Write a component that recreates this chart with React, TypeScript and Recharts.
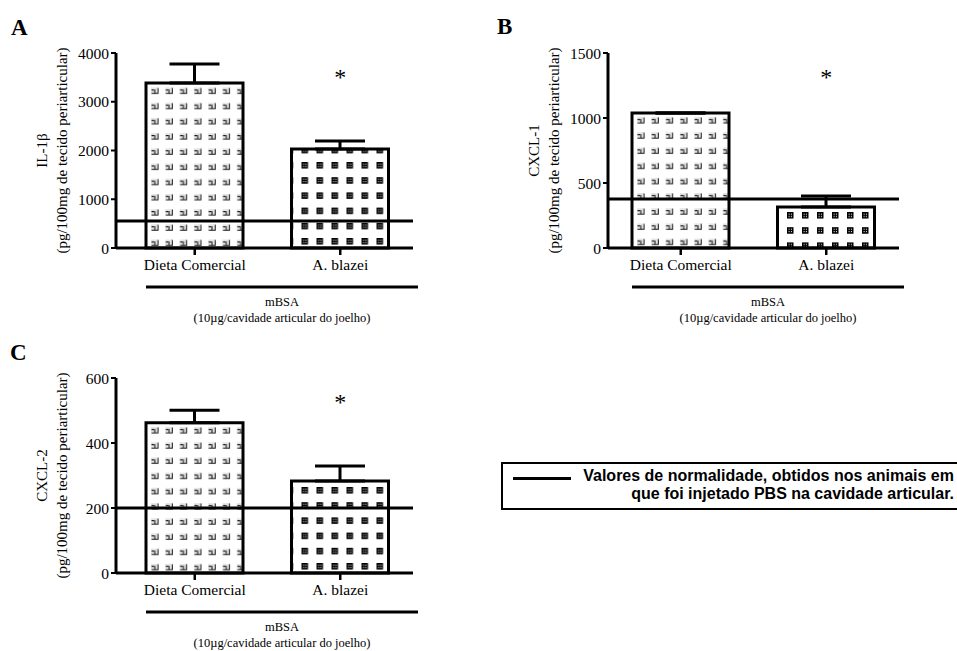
import { BarChart, Bar, Cell, XAxis, YAxis, ReferenceLine, ReferenceDot, ErrorBar } from "recharts";

const categories = ["Dieta Comercial", "A. blazei"];

// IL-1β
const il1bMean = [3385, 2030];
const il1bSem = [390, 165];
const il1bNormal = 554;
const il1bTicks = [0, 1000, 2000, 3000, 4000];
const il1bStar = 3520;

// CXCL-1
const cxcl1Mean = [1038, 315];
const cxcl1Sem = [0, 85];
const cxcl1Normal = 377;
const cxcl1Ticks = [0, 500, 1000, 1500];
const cxcl1Star = 1320;

// CXCL-2
const cxcl2Mean = [462, 283];
const cxcl2Sem = [39, 46];
const cxcl2Normal = 200;
const cxcl2Ticks = [0, 200, 400, 600];
const cxcl2Star = 528;

const SERIF = "'Liberation Serif', 'Times New Roman', serif";
const SANS = "'Liberation Sans', Arial, sans-serif";

const rows = (mean: number[], sem: number[]) =>
    categories.map((name, i) => ({ name, mean: mean[i], err: [0, sem[i]] }));

interface PanelProps {
    id: string;
    left: number;
    top: number;
    marginLeft: number;
    marginRight: number;
    padLeft: number;
    data: { name: string; mean: number; err: number[] }[];
    ticks: number[];
    normal: number;
    star: number;
    title: string;
    // pattern tile origins [bar1x, bar1y, bar2x, bar2y]
    pat: number[];
}

const Patterns = ({ id, pat }: { id: string; pat: number[] }) => (
    <defs>
        <pattern id={`${id}-a`} x={pat[0]} y={pat[1]} width={14.3} height={15.2} patternUnits="userSpaceOnUse">
            <rect width={14.3} height={15.2} fill="#fff" />
            <rect x={0} y={0} width={7.5} height={6.5} fill="#e6e6e6" />
            <path d="M0.5 6 H7 V0.5 M3.8 6 V2 M0.5 2.5 H3" stroke="#111" strokeWidth={1} fill="none" />
        </pattern>
        <pattern id={`${id}-b`} x={pat[2]} y={pat[3]} width={15} height={15.2} patternUnits="userSpaceOnUse">
            <rect width={15} height={15.2} fill="#fff" />
            <rect x={0} y={0} width={6.5} height={6.5} fill="#000" />
            <rect x={1.6} y={1.6} width={1} height={1} fill="#fff" />
            <rect x={3.9} y={1.6} width={1} height={1} fill="#fff" />
            <rect x={1.6} y={3.9} width={1} height={1} fill="#fff" />
            <rect x={3.9} y={3.9} width={1} height={1} fill="#fff" />
        </pattern>
    </defs>
);

const XTick = (p: any) => (
    <text x={p.x} y={p.y} dy="0.75em" textAnchor="middle" fontSize={15.5} fontFamily={SERIF} style={{ fontFamily: SERIF }} fill="#000">
        {p.payload.value}
    </text>
);

const YTick = (p: any) => (
    <text x={p.x} y={p.y} dy="0.36em" textAnchor="end" fontSize={15.5} fontFamily={SERIF} style={{ fontFamily: SERIF }} fill="#000">
        {p.payload.value}
    </text>
);

const Panel = ({ id, left, top, marginLeft, marginRight, padLeft, data, ticks, normal, star, title, pat }: PanelProps) => {
    const max = ticks[ticks.length - 1];
    return (
        <div style={{ position: "absolute", left, top }}>
            <BarChart
                width={430}
                height={330}
                data={data}
                margin={{ top: 53, right: marginRight, left: marginLeft, bottom: 52 }}
                barSize={97}
            >
                <Patterns id={id} pat={pat} />
                <XAxis
                    dataKey="name"
                    height={30}
                    padding={{ left: padLeft, right: 0 }}
                    axisLine={{ stroke: "#000", strokeWidth: 3 }}
                    tickLine={{ stroke: "#000", strokeWidth: 2.5 }}
                    tickSize={7}
                    tickMargin={3}
                    tick={<XTick />}
                    label={(p: any) => {
                        const vb = p.viewBox;
                        const x1 = vb.x + padLeft + 24;
                        const x2 = vb.x + vb.width + 5;
                        const cx = (x1 + x2) / 2;
                        return (
                            <g>
                                <line x1={x1} x2={x2} y1={vb.y + 39} y2={vb.y + 39} stroke="#000" strokeWidth={3} />
                                <text x={cx} y={vb.y + 58} textAnchor="middle" fontSize={12.5} fontFamily={SERIF} fill="#000">
                                    mBSA
                                </text>
                                <text x={cx} y={vb.y + 74} textAnchor="middle" fontSize={12.5} fontFamily={SERIF} fill="#000">
                                    (10µg/cavidade articular do joelho)
                                </text>
                            </g>
                        );
                    }}
                />
                <YAxis
                    width={60}
                    domain={[0, max]}
                    ticks={ticks}
                    interval={0}
                    axisLine={{ stroke: "#000", strokeWidth: 3 }}
                    tickLine={{ stroke: "#000", strokeWidth: 2 }}
                    tickSize={5}
                    tick={<YTick />}
                    label={(p: any) => {
                        const vb = p.viewBox;
                        const ax = vb.x + vb.width;
                        const cy = vb.y + vb.height / 2;
                        return (
                            <g fontFamily={SERIF} fontSize={15} fill="#000">
                                <text x={ax - 74} y={cy} textAnchor="middle" dominantBaseline="central" transform={`rotate(-90 ${ax - 74} ${cy})`}>
                                    {title}
                                </text>
                                <text x={ax - 54} y={cy} textAnchor="middle" dominantBaseline="central" transform={`rotate(-90 ${ax - 54} ${cy})`}>
                                    (pg/100mg de tecido periarticular)
                                </text>
                            </g>
                        );
                    }}
                />
                <Bar dataKey="mean" stroke="#000" strokeWidth={3} isAnimationActive={false}>
                    <Cell fill={`url(#${id}-a)`} />
                    <Cell fill={`url(#${id}-b)`} />
                    <ErrorBar dataKey="err" direction="y" width={25} stroke="#000" strokeWidth={3} />
                </Bar>
                <ReferenceLine y={normal} stroke="#000" strokeWidth={3} />
                <ReferenceDot
                    x={categories[1]}
                    y={star}
                    r={0}
                    fill="none"
                    stroke="none"
                    label={(p: any) => (
                        <text x={p.viewBox.x} y={p.viewBox.y + 9} textAnchor="middle" fontSize={24} fontFamily={SERIF} fill="#000">
                            *
                        </text>
                    )}
                />
            </BarChart>
        </div>
    );
};

const letter = (t: string, left: number, top: number) => (
    <div
        style={{
            position: "absolute",
            left,
            top,
            fontFamily: SERIF,
            fontWeight: "bold",
            fontSize: 23,
            lineHeight: "23px",
            color: "#000",
        }}
    >
        {t}
    </div>
);

export default function App() {
    return (
        <div style={{ position: "absolute", left: 0, top: 0, width: 957, height: 651, overflow: "hidden", background: "#fff" }}>
            {letter("A", 11, 16)}
            {letter("B", 497, 15)}
            {letter("C", 10, 341)}
            <Panel
                id="pa"
                left={0}
                top={0}
                marginLeft={56}
                marginRight={17}
                padLeft={6}
                data={rows(il1bMean, il1bSem)}
                ticks={il1bTicks}
                normal={il1bNormal}
                star={il1bStar}
                title="IL-1β"
                pat={[151, 87.5, 301.5, 162]}
            />
            <Panel
                id="pb"
                left={490}
                top={0}
                marginLeft={58}
                marginRight={21}
                padLeft={0}
                data={rows(cxcl1Mean, cxcl1Sem)}
                ticks={cxcl1Ticks}
                normal={cxcl1Normal}
                star={cxcl1Star}
                title="CXCL-1"
                pat={[147, 117, 297, 212]}
            />
            <Panel
                id="pc"
                left={0}
                top={325}
                marginLeft={56}
                marginRight={17}
                padLeft={6}
                data={rows(cxcl2Mean, cxcl2Sem)}
                ticks={cxcl2Ticks}
                normal={cxcl2Normal}
                star={cxcl2Star}
                title="CXCL-2"
                pat={[151, 102, 301.5, 162]}
            />
            <div
                style={{
                    position: "absolute",
                    left: 501,
                    top: 462,
                    width: 480,
                    height: 44,
                    border: "2px solid #000",
                }}
            >
                <div style={{ position: "absolute", left: 10, top: 13, width: 58, height: 3, background: "#000" }} />
                <div
                    style={{
                        position: "absolute",
                        right: 29,
                        top: 3,
                        textAlign: "right",
                        fontFamily: SANS,
                        fontWeight: "bold",
                        fontSize: 16,
                        lineHeight: "18px",
                        color: "#000",
                        whiteSpace: "nowrap",
                    }}
                >
                    Valores de normalidade, obtidos nos animais em
                    <br />
                    que foi injetado PBS na cavidade articular.
                </div>
            </div>
        </div>
    );
}
